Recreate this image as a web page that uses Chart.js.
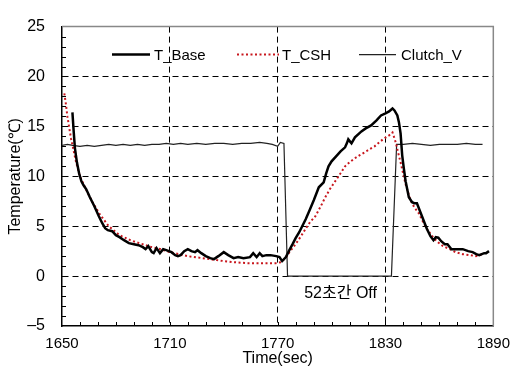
<!DOCTYPE html>
<html>
<head>
<meta charset="utf-8">
<script src="https://cdn.jsdelivr.net/npm/chart.js@4/dist/chart.umd.min.js"></script>
<style>
  html, body { margin: 0; padding: 0; background: #fff; }
  #wrap { width: 519px; height: 370px; }
</style>
</head>
<body>
<div id="wrap"><canvas id="chart" width="519" height="370"></canvas></div>
<script>
// T_Base (black, thick)
const baseTime = [1655.8, 1656.5, 1657.2, 1658.3, 1659.5, 1660.8, 1662, 1663.5, 1665.5, 1668, 1670.5, 1672.4, 1674, 1675.5, 1677.9, 1680, 1682, 1684.5, 1687.2, 1690, 1692.6, 1695, 1696.5, 1698, 1700, 1701, 1702.6, 1704.5, 1706.3, 1708, 1710.9, 1713, 1714.5, 1716, 1718, 1720, 1722, 1724, 1725.4, 1727.5, 1730, 1732.5, 1734.6, 1737, 1740, 1742.5, 1745.5, 1748, 1751, 1754.6, 1756.4, 1758.3, 1760, 1761.5, 1763.7, 1766, 1769.2, 1771, 1772.5, 1774.6, 1776.5, 1778.3, 1780, 1782, 1785.6, 1788, 1790.1, 1792.9, 1795.6, 1797, 1798.3, 1800, 1802, 1805, 1807.5, 1808.5, 1809.3, 1810.2, 1811.1, 1813, 1816.6, 1819, 1822, 1825, 1827.5, 1830, 1832, 1833.9, 1835, 1836.6, 1837.5, 1838.4, 1839.3, 1840.2, 1841.2, 1843, 1844.8, 1846, 1847.5, 1849, 1850.3, 1853, 1855, 1856.7, 1858, 1859.4, 1861, 1863, 1864.5, 1866.7, 1870, 1873, 1876, 1878.5, 1880.5, 1882.2, 1884.9, 1886, 1887.6];
const baseTemp = [16.4, 14.5, 12.8, 11.4, 10.3, 9.5, 9.1, 8.7, 7.9, 7.0, 6.0, 5.3, 4.8, 4.6, 4.5, 4.1, 3.9, 3.6, 3.3, 3.2, 3.1, 2.9, 2.7, 3.0, 2.4, 2.3, 2.8, 2.3, 2.7, 2.6, 2.4, 2.1, 2.0, 2.1, 2.5, 2.7, 2.5, 2.4, 2.6, 2.3, 2.0, 1.8, 1.7, 2.0, 2.4, 2.1, 1.8, 1.9, 1.8, 1.9, 2.3, 1.9, 2.3, 2.0, 2.1, 2.1, 2.0, 1.9, 1.5, 1.9, 2.6, 3.2, 3.8, 4.4, 5.7, 6.7, 7.6, 8.9, 9.4, 10.3, 11.0, 11.5, 11.9, 12.5, 12.9, 13.3, 13.7, 13.5, 13.3, 13.9, 14.5, 14.8, 15.1, 15.6, 16.1, 16.3, 16.5, 16.8, 16.6, 16.1, 15.4, 14.3, 12.1, 10.8, 9.5, 7.9, 7.4, 7.3, 7.3, 6.6, 6.0, 4.75, 4.0, 3.6, 3.9, 3.85, 3.5, 3.2, 3.2, 2.7, 2.7, 2.7, 2.5, 2.4, 2.2, 2.1, 2.3, 2.3, 2.5];

// T_CSH (red, dotted)
const cshTime = [1651.3, 1652.2, 1653, 1654, 1655, 1656, 1657, 1658, 1660, 1663, 1667, 1671, 1676, 1682, 1688, 1693, 1700, 1705, 1710, 1715, 1720, 1728, 1736, 1745, 1753, 1762, 1769, 1772, 1774.6, 1777, 1780, 1783, 1785.6, 1788, 1791, 1794, 1796.5, 1799, 1802, 1805, 1807.5, 1810, 1812.9, 1815.5, 1818.4, 1821, 1823.9, 1826.5, 1829.3, 1832, 1833.9, 1835.7, 1837, 1838.4, 1839.8, 1841.2, 1843.9, 1846, 1848.5, 1851, 1853, 1856, 1858.5, 1862, 1865.8, 1869, 1873, 1877, 1880.3, 1884];
const cshTemp = [18.3, 17.2, 16.0, 14.9, 13.8, 13.0, 12.1, 11.3, 10.0, 8.8, 7.4, 6.2, 5.0, 4.1, 3.6, 3.3, 2.9, 2.7, 2.4, 2.2, 2.0, 1.8, 1.6, 1.4, 1.3, 1.3, 1.3, 1.4, 1.9, 2.5, 3.2, 4.0, 4.75, 5.4, 6.0, 7.0, 7.9, 8.7, 9.5, 10.3, 11.0, 11.4, 11.8, 12.1, 12.4, 12.7, 13.0, 13.4, 13.8, 14.1, 14.4, 13.4, 12.4, 11.4, 10.3, 9.2, 7.6, 6.9, 6.3, 5.4, 4.75, 4.0, 3.5, 3.0, 2.7, 2.4, 2.2, 2.1, 2.0, 2.2];

// Clutch_V (thin line)
const clutchTime = [1650, 1653, 1656, 1660, 1664, 1668, 1672, 1676, 1680, 1684, 1688, 1692, 1696, 1700, 1704, 1708, 1712, 1716, 1720, 1725, 1730, 1735, 1740, 1745, 1750, 1755, 1760, 1764, 1767, 1770, 1771.5, 1773.5, 1775.5, 1790, 1805, 1820, 1833.3, 1836.2, 1840, 1845, 1850, 1855, 1860, 1865, 1870, 1875, 1880, 1884];
const clutchV = [13.1, 13.2, 13.1, 13.0, 13.1, 13.0, 13.1, 13.2, 13.1, 13.2, 13.1, 13.2, 13.1, 13.2, 13.2, 13.3, 13.2, 13.3, 13.2, 13.3, 13.2, 13.3, 13.3, 13.2, 13.3, 13.3, 13.4, 13.3, 13.2, 13.0, 13.4, 13.3, 0, 0, 0, 0, 0, 13.2, 13.2, 13.3, 13.2, 13.1, 13.2, 13.2, 13.2, 13.3, 13.2, 13.2];

const xTicks = [1650, 1710, 1770, 1830, 1890];
const yTicks = [-5, 0, 5, 10, 15, 20, 25];
const offNote = { x: 1805, y: -1.8, text: '52초간 Off' };

const FONT = '"Liberation Sans", Arial, sans-serif';
const pts = (xs, ys) => xs.map((x, i) => ({ x: x, y: ys[i] }));

const framePlugin = {
  id: 'framePlugin',
  afterDraw: (chart) => {
    const { ctx, chartArea: { left, right, top, bottom }, scales: { x, y } } = chart;
    ctx.save();

    // grey top/right frame
    ctx.strokeStyle = '#888';
    ctx.lineWidth = 1.5;
    ctx.beginPath();
    ctx.moveTo(left, top);
    ctx.lineTo(right, top);
    ctx.lineTo(right, bottom);
    ctx.stroke();

    // minor ticks, pointing inward
    ctx.strokeStyle = '#000';
    ctx.lineWidth = 1;
    ctx.beginPath();
    for (let v = x.min + 10; v < x.max; v += 10) {
      const px = Math.round(x.getPixelForValue(v)) + 0.5;
      ctx.moveTo(px, bottom);
      ctx.lineTo(px, bottom - 4);
    }
    for (let v = y.min + 1; v < y.max; v += 1) {
      const py = Math.round(y.getPixelForValue(v)) + 0.5;
      ctx.moveTo(left, py);
      ctx.lineTo(left + 4, py);
    }
    ctx.stroke();

    // legend inside the plot
    const ly = top + 28;
    const items = [
      { x0: 112, x1: 150, tx: 154, i: 0 },
      { x0: 237, x1: 279, tx: 282, i: 1 },
      { x0: 359, x1: 396, tx: 401, i: 2 }
    ];
    ctx.font = '15px ' + FONT;
    ctx.textBaseline = 'middle';
    ctx.textAlign = 'left';
    items.forEach((it) => {
      const ds = chart.data.datasets[it.i];
      ctx.beginPath();
      ctx.strokeStyle = ds.borderColor;
      ctx.lineWidth = ds.borderWidth;
      ctx.setLineDash(ds.borderDash || []);
      ctx.moveTo(it.x0, ly);
      ctx.lineTo(it.x1, ly);
      ctx.stroke();
      ctx.setLineDash([]);
      ctx.fillStyle = '#000';
      ctx.fillText(ds.label, it.tx, ly + 1);
    });

    // annotation
    ctx.font = '16px ' + FONT + ', "Noto Sans CJK KR"';
    ctx.textAlign = 'center';
    ctx.fillText(offNote.text, x.getPixelForValue(offNote.x), y.getPixelForValue(offNote.y));

    ctx.restore();
  }
};

const edgeColor = (edges) => (c) => edges.includes(c.tick.value) ? 'rgba(0,0,0,0)' : '#000';

new Chart(document.getElementById('chart').getContext('2d'), {
  type: 'scatter',
  data: {
    datasets: [
      {
        label: 'T_Base',
        data: pts(baseTime, baseTemp),
        showLine: true,
        borderColor: '#000',
        borderWidth: 2.5,
        pointRadius: 0,
        tension: 0
      },
      {
        label: 'T_CSH',
        data: pts(cshTime, cshTemp),
        showLine: true,
        borderColor: '#c8161d',
        borderWidth: 2,
        borderDash: [2, 2.5],
        pointRadius: 0,
        tension: 0
      },
      {
        label: 'Clutch_V',
        data: pts(clutchTime, clutchV),
        showLine: true,
        borderColor: '#222',
        borderWidth: 1.2,
        pointRadius: 0,
        tension: 0
      }
    ]
  },
  options: {
    responsive: false,
    animation: false,
    layout: { padding: { top: 12, right: 18, left: 0, bottom: 0 } },
    plugins: {
      legend: { display: false },
      tooltip: { enabled: false }
    },
    scales: {
      x: {
        type: 'linear',
        min: xTicks[0],
        max: xTicks[xTicks.length - 1],
        afterFit: (s) => { s.height = 44; },
        afterBuildTicks: (s) => { s.ticks = xTicks.map((v) => ({ value: v })); },
        ticks: {
          color: '#000', padding: 9, font: { family: FONT, size: 15 }, maxRotation: 0,
          callback: (v) => String(v)
        },
        grid: { color: edgeColor([1650, 1890]), lineWidth: 1, drawTicks: false },
        border: { color: '#000', width: 1.5, dash: [6, 4] },
        title: { display: true, text: 'Time(sec)', color: '#000', font: { family: FONT, size: 16 }, padding: { top: 0, bottom: 2 } }
      },
      y: {
        min: yTicks[0],
        max: yTicks[yTicks.length - 1],
        afterFit: (s) => { s.width = 62; },
        afterBuildTicks: (s) => { s.ticks = yTicks.map((v) => ({ value: v })); },
        ticks: {
          color: '#000', padding: 17, font: { family: FONT, size: 16 },
          callback: (v) => v < 0 ? '\u2013' + Math.abs(v) : String(v)
        },
        grid: { color: edgeColor([-5, 25]), lineWidth: 1, drawTicks: false },
        border: { color: '#000', width: 1.5, dash: [6, 4] },
        title: { display: true, text: 'Temperature(℃)', color: '#000', font: { family: FONT, size: 16 }, padding: { top: 6, bottom: 0 } }
      }
    }
  },
  plugins: [framePlugin]
});
</script>
</body>
</html>
